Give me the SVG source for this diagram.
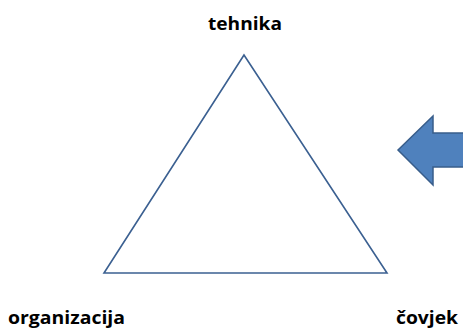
<svg xmlns="http://www.w3.org/2000/svg" width="463" height="328" viewBox="0 0 463 328">
<style>
.lbl{font-family:"Open Sans","Liberation Sans",sans-serif;font-weight:bold;font-size:18.5px;fill:#000}
.tri{fill:none;stroke:#3b6091;stroke-width:1.6;stroke-linejoin:miter}
.arr{fill:#4f81bd;stroke:#385d8a;stroke-width:1.5}
</style>
<rect width="463" height="328" fill="#fff"/>
<g id="triangle"><polygon class="tri" points="244,55 104,273 387,273"/></g>
<g id="arrow"><polygon class="arr" points="398,150 433,116 433,133 470,133 470,167 433,167 433,185"/></g>
<g id="tehnika"><text class="lbl" x="245" y="30" text-anchor="middle" textLength="74" lengthAdjust="spacingAndGlyphs">tehnika</text></g>
<g id="organizacija"><text class="lbl" x="8" y="324" textLength="117" lengthAdjust="spacingAndGlyphs">organizacija</text></g>
<g id="covjek"><text class="lbl" x="396" y="324" textLength="62" lengthAdjust="spacingAndGlyphs">čovjek</text></g>
</svg>
